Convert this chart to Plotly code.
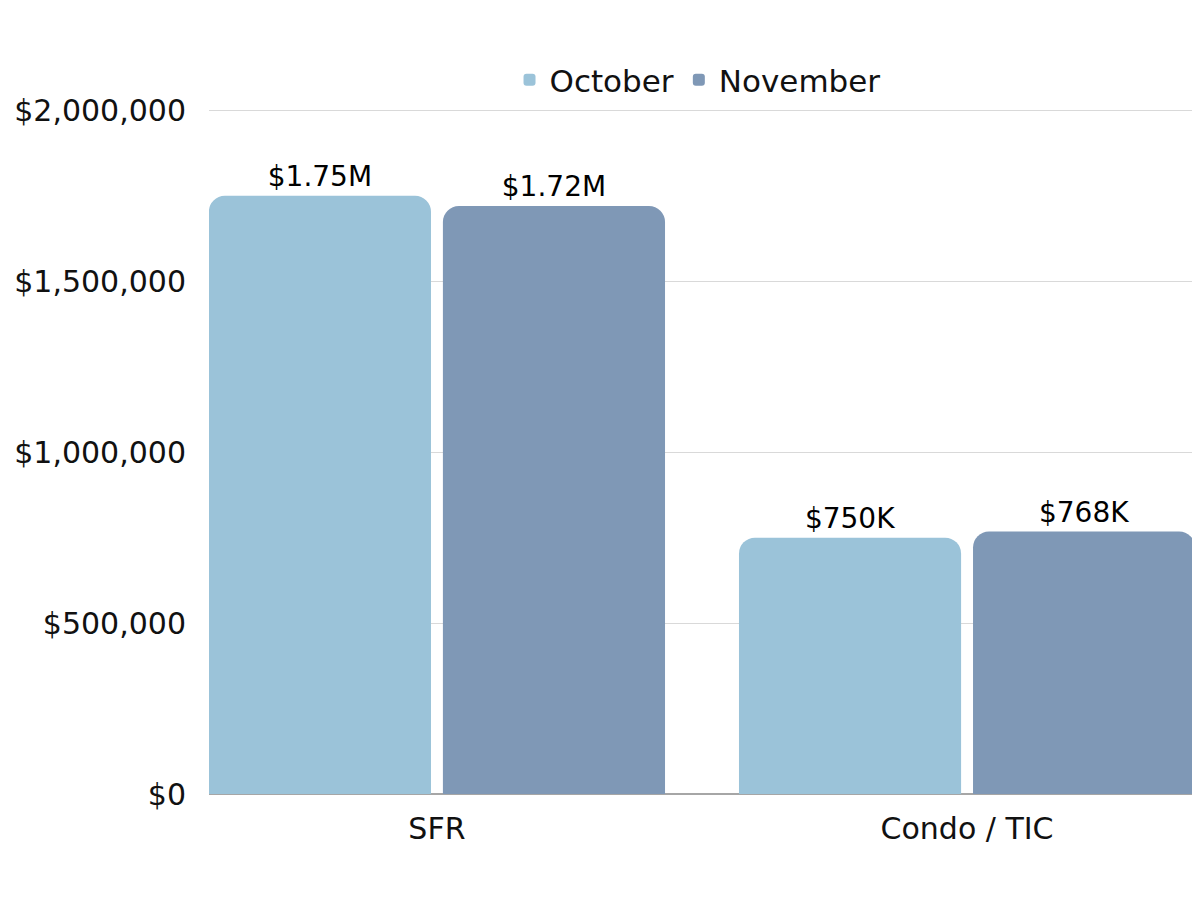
import plotly.graph_objects as go

categories = ["SFR", "Condo / TIC"]
october = [1750000, 750000]
november = [1720000, 768000]
october_labels = ["$1.75M", "$750K"]
november_labels = ["$1.72M", "$768K"]
y_ticks = [0, 500000, 1000000, 1500000, 2000000]
y_tick_labels = ["$0", "$500,000", "$1,000,000", "$1,500,000", "$2,000,000"]

FONT = "DejaVu Sans"
FS = 28

fig = go.Figure()
fig.add_trace(go.Bar(
    name="October", x=categories, y=october, text=october_labels,
    textposition="outside", marker=dict(color="#9BC3D9", line=dict(width=0)),
    textfont=dict(size=FS, color="#000000", family=FONT), cliponaxis=False,
))
fig.add_trace(go.Bar(
    name="November", x=categories, y=november, text=november_labels,
    textposition="outside", marker=dict(color="#7F98B6", line=dict(width=0)),
    textfont=dict(size=FS, color="#000000", family=FONT), cliponaxis=False,
))

fig.update_layout(
    width=1200, height=900,
    paper_bgcolor="white", plot_bgcolor="white",
    margin=dict(l=201, r=13, t=99, b=114, autoexpand=False),
    barmode="group", bargap=0.117, bargroupgap=0.051,
    barcornerradius=16,
    font=dict(family=FONT, size=30, color="#111111"),
    legend=dict(orientation="h", xref="container", yref="container",
                x=0.5746, xanchor="center", y=0.92, yanchor="middle",
                font=dict(size=31, color="#111111"), itemwidth=30,
                traceorder="normal"),
)
fig.update_xaxes(range=[-0.43, 1.43], showgrid=False, showline=False,
                 ticks="", ticklabelstandoff=14, tickfont=dict(size=30, color="#111111"))
fig.update_yaxes(range=[0, 2010000], tickvals=y_ticks, ticktext=y_tick_labels,
                 showgrid=True, gridcolor="#D9D9D9", gridwidth=1,
                 zeroline=True, zerolinecolor="#A6A6A6", zerolinewidth=1.5,
                 ticklabelstandoff=22, tickfont=dict(size=30, color="#111111"))

fig.write_html("out.html")
